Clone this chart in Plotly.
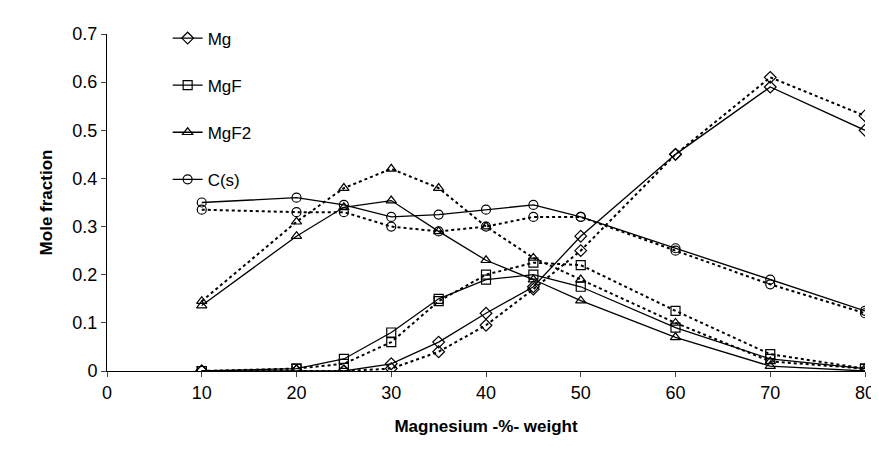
import plotly.graph_objects as go

x = [10, 20, 25, 30, 35, 40, 45, 50, 60, 70, 80]

mg_solid = [0, 0, 0, 0.015, 0.06, 0.12, 0.175, 0.28, 0.45, 0.59, 0.5]
mg_dot = [0, 0, 0, 0.005, 0.04, 0.095, 0.17, 0.25, 0.45, 0.61, 0.53]
mgf_solid = [0, 0.005, 0.025, 0.08, 0.15, 0.19, 0.2, 0.175, 0.09, 0.025, 0.005]
mgf_dot = [0, 0.005, 0.015, 0.06, 0.145, 0.2, 0.225, 0.22, 0.125, 0.035, 0.005]
mgf2_solid = [0.136, 0.28, 0.34, 0.354, 0.29, 0.23, 0.19, 0.146, 0.07, 0.01, 0.0]
mgf2_dot = [0.145, 0.31, 0.38, 0.42, 0.38, 0.3, 0.235, 0.19, 0.1, 0.02, 0.005]
c_solid = [0.35, 0.36, 0.345, 0.32, 0.325, 0.335, 0.345, 0.32, 0.255, 0.19, 0.125]
c_dot = [0.335, 0.33, 0.33, 0.3, 0.29, 0.3, 0.32, 0.32, 0.25, 0.18, 0.12]

series = [
    ("Mg", "diamond-open", mg_solid, mg_dot),
    ("MgF", "square-open", mgf_solid, mgf_dot),
    ("MgF2", "triangle-up-open", mgf2_solid, mgf2_dot),
    ("C(s)", "circle-open", c_solid, c_dot),
]

fig = go.Figure()
for name, sym, solid, dot in series:
    fig.add_trace(go.Scatter(
        x=x, y=solid, name=name, mode="lines+markers", legendgroup=name,
        line=dict(color="black", width=1.3),
        marker=dict(symbol=sym, size=9, color="black", line=dict(width=1.2)),
    ))
    fig.add_trace(go.Scatter(
        x=x, y=dot, name=name, mode="lines+markers", showlegend=False,
        line=dict(color="black", width=2, dash="dot"),
        marker=dict(symbol=sym, size=9, color="black", line=dict(width=1.2)),
    ))

tick_font = dict(size=18)

# page body has an 8px margin, so the figure is shifted by that much
fig.update_layout(
    width=875, height=450,
    margin=dict(l=99, r=18, t=20, b=87),
    plot_bgcolor="white", paper_bgcolor="white",
    font=dict(family="Liberation Sans, Arial", size=16, color="black"),
    legend=dict(x=0.08, y=1.04, xanchor="left", yanchor="top",
                bgcolor="rgba(0,0,0,0)", traceorder="grouped",
                tracegroupgap=22, font=dict(size=17)),
    xaxis=dict(range=[0, 80], dtick=10, ticks="outside", ticklen=5,
               tickfont=tick_font, automargin=False,
               showgrid=False, zeroline=False, showline=True, linecolor="black",
               title=dict(text="<b>Magnesium -%- weight</b>", font=dict(size=17),
                          standoff=18)),
    yaxis=dict(range=[0, 0.7], dtick=0.1, ticks="outside", ticklen=5,
               tickfont=tick_font, automargin=False,
               tickformat=".1~f", showgrid=False, zeroline=False,
               showline=True, linecolor="black",
               title=dict(text="<b>Mole fraction</b>", font=dict(size=17))),
)

fig.write_html("out.html")
